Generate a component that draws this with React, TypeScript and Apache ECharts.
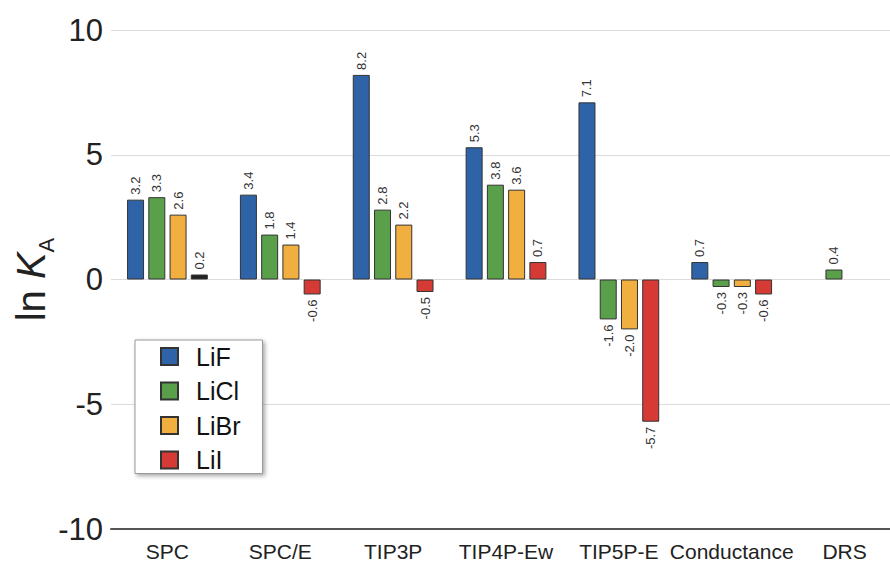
import React, { useEffect, useRef } from "react";
import * as echarts from "echarts";

const categories = ["SPC", "SPC/E", "TIP3P", "TIP4P-Ew", "TIP5P-E", "Conductance", "DRS"];
const seriesNames = ["LiF", "LiCl", "LiBr", "LiI"];
const liF: (number | null)[] = [3.2, 3.4, 8.2, 5.3, 7.1, 0.7, null];
const liCl: (number | null)[] = [3.3, 1.8, 2.8, 3.8, -1.6, -0.3, 0.4];
const liBr: (number | null)[] = [2.6, 1.4, 2.2, 3.6, -2.0, -0.3, null];
const liI: (number | null)[] = [0.2, -0.6, -0.5, 0.7, -5.7, -0.6, null];
const seriesValues = [liF, liCl, liBr, liI];
const colors = ["#2E64A7", "#5A9F4A", "#F1AF3F", "#D63A35"];
const yMin = -10;
const yMax = 10;
const yInterval = 5;

const FONT = "'Liberation Sans', Arial, Helvetica, sans-serif";

export default function App() {
  const ref = useRef<HTMLDivElement>(null);
  useEffect(() => {
    document.body.style.margin = "0";
    if (!ref.current) return;
    const chart = echarts.init(ref.current, null, { renderer: "svg" });
    const series = seriesValues.map((vals, si) => ({
      name: seriesNames[si],
      type: "bar",
      barWidth: 17,
      barGap: "25%",
      itemStyle: { color: colors[si], borderColor: "#333", borderWidth: 1 },
      data: vals.map((v, ci) => {
        if (v === null) return null;
        const pos = v >= 0;
        const item: any = {
          value: v,
          label: {
            show: true,
            position: pos ? "top" : "bottom",
            rotate: 90,
            align: pos ? "left" : "right",
            verticalAlign: "middle",
            distance: 5,
            fontSize: 13,
            fontFamily: FONT,
            color: "#333",
            formatter: (p: any) => Number(p.value).toFixed(1),
          },
        };
        if (si === 3 && ci === 0) {
          item.itemStyle = { color: "#222" };
        }
        return item;
      }),
    }));
    chart.setOption({
      animation: false,
      backgroundColor: "#fff",
      grid: { left: 111, width: 790, top: 30, bottom: 39, containLabel: false, outerBoundsMode: "none" },
      legend: {
        data: seriesNames.map((n) => ({ name: n, icon: "rect" })),
        orient: "vertical",
        left: 135,
        top: 340,
        itemWidth: 17,
        itemHeight: 17,
        itemGap: 9.5,
        padding: [4, 22, 1, 25],
        backgroundColor: "#fff",
        borderColor: "#999",
        borderWidth: 1,
        shadowBlur: 4,
        shadowColor: "rgba(0,0,0,0.35)",
        shadowOffsetX: 2,
        shadowOffsetY: 2,
        textStyle: {
          fontSize: 25,
          lineHeight: 25,
          fontFamily: FONT,
          color: "#111",
          padding: [0, 0, 0, 13],
        },
      },
      xAxis: {
        type: "category",
        data: categories,
        axisLine: { onZero: false, lineStyle: { color: "#555", width: 2 } },
        axisTick: { show: false },
        axisLabel: {
          interval: 0,
          margin: 12,
          fontSize: 21,
          fontFamily: FONT,
          color: "#222",
        },
        splitLine: { show: false },
      },
      yAxis: {
        type: "value",
        min: yMin,
        max: yMax,
        interval: yInterval,
        axisLine: { show: false },
        axisTick: { show: false },
        axisLabel: { fontSize: 31, fontFamily: FONT, color: "#222", margin: 8 },
        splitLine: { lineStyle: { color: "#dcdcdc", width: 1 } },
        name: "{ln|ln }{k|K}{a|A}",
        nameLocation: "middle",
        nameGap: 60,
        nameMoveOverlap: false,
        nameTextStyle: {
          fontFamily: FONT,
          color: "#222",
          rich: {
            ln: { fontSize: 40, fontFamily: FONT, color: "#222" },
            k: { fontSize: 40, fontFamily: FONT, fontStyle: "italic", color: "#222" },
            a: { fontSize: 22, fontFamily: FONT, color: "#222", verticalAlign: "bottom", padding: [0, 0, -6, 0] },
          },
        },
      },
      series,
    });
    return () => chart.dispose();
  }, []);
  return <div ref={ref} style={{ width: 890, height: 568 }} />;
}
